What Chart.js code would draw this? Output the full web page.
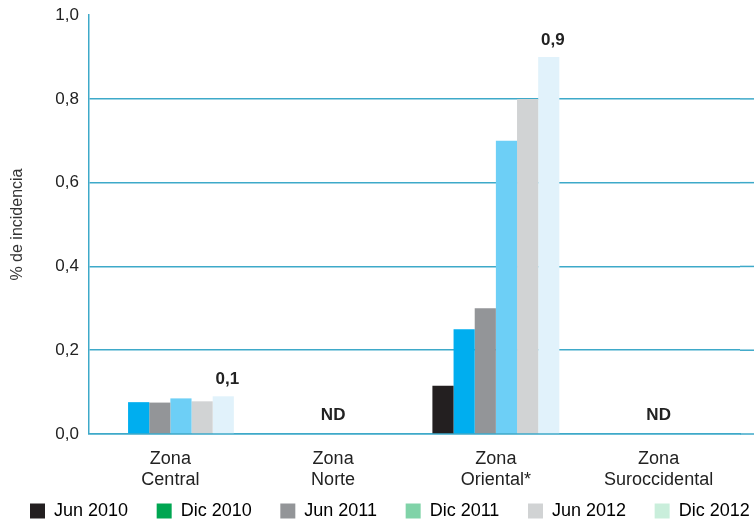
<!DOCTYPE html>
<html>
<head>
<meta charset="utf-8">
<script src="https://cdn.jsdelivr.net/npm/chart.js@4/dist/chart.umd.min.js"></script>
<style>
  html, body { margin: 0; padding: 0; background: #fff; }
  #wrap { width: 754px; height: 525px; }
</style>
</head>
<body>
<div id="wrap"><canvas id="incidencia"></canvas></div>
<script>
var zonas = [["Zona", "Central"], ["Zona", "Norte"], ["Zona", "Oriental*"], ["Zona", "Suroccidental"]];
var periodos = ["Jun 2010", "Dic 2010", "Jun 2011", "Dic 2011", "Jun 2012", "Dic 2012"];
var jun2010 = [null, null, 0.115, null];
var dic2010 = [0.076, null, 0.25, null];
var jun2011 = [0.075, null, 0.30, null];
var dic2011 = [0.085, null, 0.70, null];
var jun2012 = [0.078, null, 0.80, null];
var dic2012 = [0.09, null, 0.90, null];
var etiquetas = ["0,1", "ND", "0,9", "ND"];
var yTicks = [0, 0.2, 0.4, 0.6, 0.8, 1.0];

var barColors = ['#231f20', '#00aeef', '#939598', '#6dcff6', '#d1d3d4', '#e1f2fb'];
var legendColors = ['#231f20', '#00a651', '#939598', '#80d3a8', '#d1d3d4', '#c9eedb'];
var series = [jun2010, dic2010, jun2011, dic2011, jun2012, dic2012];

var gridBlue = '#3ea9c9';
var fam = '"Liberation Sans", Arial, sans-serif';
var pad5 = '\u00a0\u00a0\u00a0\u00a0\u00a0\u2009';

// writes the 0,1 / ND / 0,9 notes over the groups
var notesPlugin = {
  id: 'notes',
  afterLayout: function (chart) {
    // nudge legend row so it starts where the original one does
    chart.legend.left += 30;
    chart.legend.right += 30;
  },
  beforeDatasetsDraw: function (chart) {
    // gridlines run on to the page edge
    var ctx = chart.ctx, y = chart.scales.y, a = chart.chartArea;
    ctx.save();
    ctx.strokeStyle = gridBlue;
    ctx.lineWidth = 1.5;
    yTicks.forEach(function (v) {
      if (v >= 0.99) return;
      var py = y.getPixelForValue(v);
      ctx.beginPath();
      ctx.moveTo(a.right, py);
      ctx.lineTo(chart.width, py);
      ctx.stroke();
    });
    ctx.restore();
  },
  afterDatasetsDraw: function (chart) {
    var ctx = chart.ctx;
    var x = chart.scales.x, y = chart.scales.y;
    var lastMeta = chart.getDatasetMeta(series.length - 1);
    ctx.save();
    ctx.font = 'bold 17px ' + fam;
    ctx.fillStyle = '#222';
    ctx.textAlign = 'center';
    ctx.textBaseline = 'bottom';
    etiquetas.forEach(function (t, i) {
      var v = dic2012[i];
      if (v === null) {
        ctx.fillText(t, x.getPixelForValue(i), y.getPixelForValue(0) - 10);
      } else {
        var bar = lastMeta.data[i];
        ctx.fillText(t, bar.x + 4, y.getPixelForValue(v) - 8);
      }
    });
    ctx.restore();
  }
};

new Chart(document.getElementById('incidencia').getContext('2d'), {
  type: 'bar',
  data: {
    labels: zonas,
    datasets: series.map(function (s, i) {
      return {
        label: periodos[i],
        data: s,
        backgroundColor: barColors[i],
        borderWidth: 0,
        categoryPercentage: 0.78,
        barPercentage: 1.0
      };
    })
  },
  options: {
    responsive: true,
    maintainAspectRatio: false,
    animation: false,
    layout: { padding: { top: -2, right: 0, left: 0, bottom: -5 } },
    plugins: {
      tooltip: { enabled: false },
      legend: {
        position: 'bottom',
        align: 'start',
        labels: {
          boxWidth: 15,
          boxHeight: 15,
          padding: 0,
          color: '#222',
          font: { size: 18, family: fam },
          // trailing spaces widen each entry so the row spreads out
          generateLabels: function () {
            return periodos.map(function (p, i) {
              return { text: p + pad5, fillStyle: legendColors[i], strokeStyle: legendColors[i], lineWidth: 0, datasetIndex: i };
            });
          }
        }
      }
    },
    scales: {
      x: {
        afterFit: function (axis) { axis.height = 68; },
        grid: { display: false },
        border: { display: true, color: gridBlue, width: 1.5 },
        ticks: {
          color: '#222',
          padding: 6,
          font: { size: 18, family: fam }
        }
      },
      y: {
        min: 0,
        max: 1.0,
        afterFit: function (axis) { axis.width = 89; },
        afterBuildTicks: function (axis) {
          axis.ticks = yTicks.map(function (v) { return { value: v }; });
        },
        grid: {
          color: function (c) { return c.tick && c.tick.value >= 0.99 ? 'rgba(0,0,0,0)' : gridBlue; },
          lineWidth: 1.5,
          drawTicks: false
        },
        border: { display: true, color: gridBlue, width: 1.5 },
        ticks: {
          color: '#222',
          padding: 10,
          font: { size: 17, family: fam, lineHeight: 0.6 },
          callback: function (v) { return v.toFixed(1).replace('.', ','); }
        },
        title: {
          display: true,
          text: '% de incidencia',
          color: '#333',
          padding: { top: 8, bottom: 14 },
          font: { size: 16, family: fam }
        }
      },
      // empty strip on the right, keeps the groups where they sit in the original
      margen: {
        type: 'linear',
        position: 'right',
        display: true,
        afterFit: function (axis) { axis.width = 14; },
        grid: { display: false },
        border: { display: false },
        ticks: { display: false }
      }
    }
  },
  plugins: [notesPlugin]
});
</script>
</body>
</html>
